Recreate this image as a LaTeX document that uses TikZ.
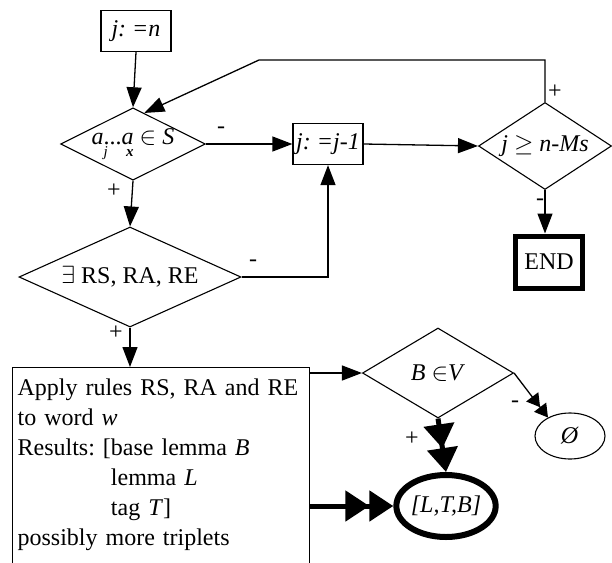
\documentclass[tikz,border=0pt]{standalone}
\usepackage{fontspec}
\setmainfont{Liberation Serif}
\usetikzlibrary{shapes.geometric,arrows.meta}
\frenchspacing

\begin{document}
\begin{tikzpicture}[x=1pt,y=-1pt,
  every node/.style={font=\fontsize{24}{30}\selectfont},
  boxstyle/.style={draw,line width=1.3pt,inner sep=0pt,minimum width=70pt,minimum height=41pt},
  endstyle/.style={draw,line width=5pt,inner sep=0pt,minimum width=67pt,minimum height=52pt},
  diastyle/.style={diamond,draw,line width=1.1pt,inner sep=0pt},
  flowarrow/.style={line width=1.3pt,-{Triangle[length=20pt,width=15pt]}},
  boldarrow/.style={line width=5pt,-{Triangle[length=24pt,width=30pt]Triangle[length=24pt,width=30pt]}},
  emptyarrow/.style={line width=1.3pt,-{Triangle[length=13pt,width=15pt]Triangle[length=13pt,width=15pt]}},
  signstyle/.style={inner sep=0pt}]
  \useasboundingbox (0,0) rectangle (612,562);
  \clip (0,0) rectangle (612,562);

  \node [boxstyle] (jn) at (136,31) {\textit{j: =n}};
  \node [diastyle,aspect=2,minimum width=143pt,minimum height=71pt] (D1) at (133,144)
    {\textit{a}\rlap{\raisebox{-12pt}{\fontsize{15}{15}\selectfont\textit{j}}}...\textit{a}\llap{\raisebox{-12pt}{\fontsize{15}{15}\selectfont\textbf{\textit{x}}}} $\in$ \textit{S}};
  \node [boxstyle] (jm) at (328,144) {\textit{j: =j-1}};
  \node [diastyle,aspect=1.5,minimum width=133pt,minimum height=87pt] (D3) at (545,146) {\textit{j} $\geq$ \textit{n-Ms}};
  \node [endstyle] (END) at (549,262) {END};
  \node [diastyle,aspect=2.2,minimum width=222pt,minimum height=100pt] (D2) at (130,277) {$\exists$ RS, RA, RE};
  \node [draw,line width=1.3pt,anchor=north west,text width=287pt,inner xsep=5pt,inner ysep=11pt,align=left] (rules) at (12,367)
    {Apply rules RS, RA and RE\\
     to word \textit{w}\\
     Results: [base lemma \textit{B}\\
     \phantom{Results: [}lemma \textit{L}\\
     \phantom{Results: [}tag \textit{T}]\\
     possibly more triplets\\
     \mbox{}};
  \node [diastyle,aspect=1.7,minimum width=151pt,minimum height=90pt] (D4) at (438,373) {\textit{B} $\in$\textit{V}};
  \node [ellipse,draw,line width=1.1pt,inner sep=0pt,minimum width=70pt,minimum height=46pt] (empty) at (570,436) {\textit{Ø}};
  \node [ellipse,draw,line width=6pt,inner sep=0pt,minimum width=88pt,minimum height=62pt] (LTB) at (446,506) {\textit{[L,T,B]}};

  \coordinate (bend) at (259,60);
  \draw [flowarrow] (jn.south) -- (D1.north);
  \draw [flowarrow] (D3.north) |- (bend) -- (D1.70);
  \draw [flowarrow] (D1.east) -- (jm.west);
  \draw [flowarrow] (jm.east) -- (D3.west);
  \draw [flowarrow] (D3.south) -- (D3.south |- END.north);
  \draw [flowarrow] (D1.south) -- (D2.north);
  \draw [flowarrow] (D2.east) -| (jm.south);
  \draw [flowarrow] (D2.south) -- (D2.south |- rules.north);
  \draw [flowarrow] (D4.west -| rules.east) -- (D4.west);
  \draw [boldarrow] (D4.south) -- (LTB.north);
  \draw [emptyarrow] (D4.east) -- (empty.140);
  \draw [boldarrow] (LTB.west -| rules.east) -- (LTB.west);

  \foreach \x/\y/\s/\n in {221/130/-/m1, 555/92/+/p1, 540/202/-/m2, 114/191/+/p2,
                           253/263/-/m3, 116/333/+/p3, 412/439/+/p4, 515/404/-/m4}
    \node [signstyle] (\n) at (\x,\y) {\s};
\end{tikzpicture}
\end{document}
